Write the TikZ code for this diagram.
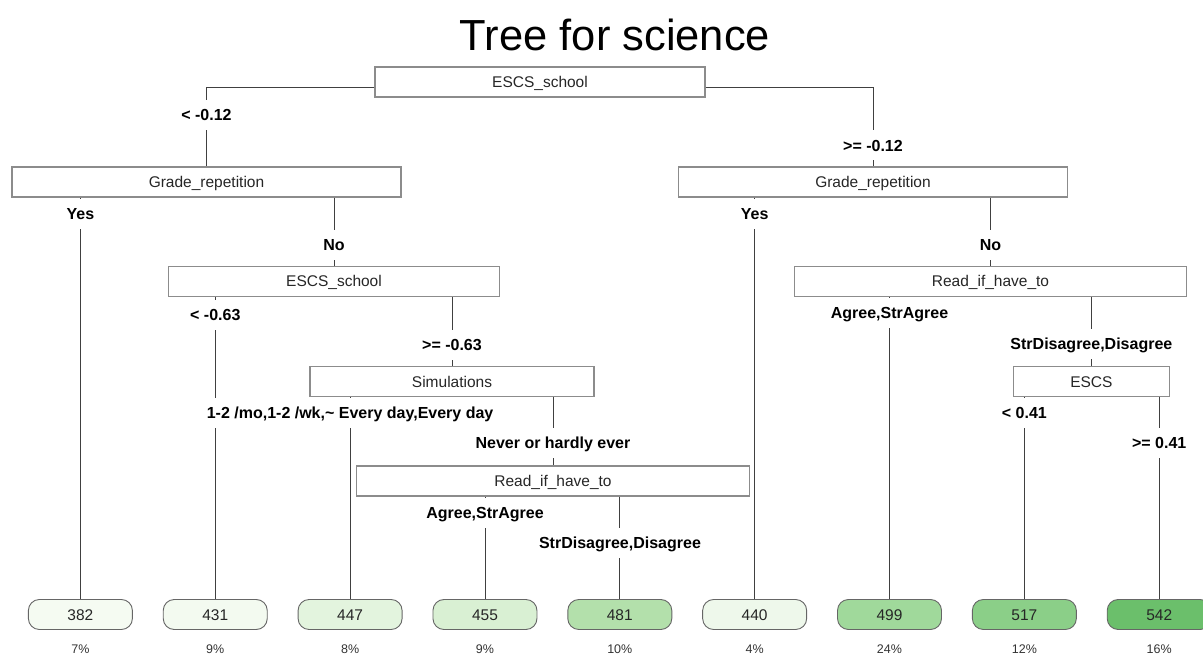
\documentclass[tikz,border=0pt]{standalone}
\usepackage{fontspec}
\setmainfont{Liberation Sans}
\definecolor{leafa}{HTML}{F5FBF2}
\definecolor{leafb}{HTML}{F3FAF0}
\definecolor{leafc}{HTML}{E3F4DE}
\definecolor{leafd}{HTML}{D9F0D3}
\definecolor{leafe}{HTML}{B3E0AB}
\definecolor{leaff}{HTML}{EEF8EB}
\definecolor{leafg}{HTML}{A0D99B}
\definecolor{leafh}{HTML}{8BCF88}
\definecolor{leafi}{HTML}{6BBF6B}

\begin{document}
\begin{tikzpicture}[x=1pt,y=-1pt,
    split/.style={draw=black!45,line width=1.2pt,fill=white,minimum height=30pt,inner sep=0pt,
        text height=11pt,text depth=0pt,font=\fontsize{15.5}{18}\selectfont,text=black!85},
    leaf/.style={draw=black!60,line width=0.9pt,rounded corners=11pt,minimum width=104pt,
        minimum height=30pt,inner sep=0pt,text height=11pt,text depth=0pt,
        font=\fontsize{15.5}{18}\selectfont,text=black!85},
    cut/.style={fill=white,minimum height=30pt,inner sep=2pt,text height=11.5pt,text depth=0pt,
        font=\bfseries\fontsize{16}{19}\selectfont},
    branch/.style={draw=black!75,line width=0.8pt},
    pct/.style={font=\fontsize{12.5}{15}\selectfont,text=black!80}]
    \useasboundingbox (0,0) rectangle (1203,655);

    \node[anchor=base,font=\fontsize{43.5}{50}\selectfont] (title) at (615,51) {Tree for science};

    % Split nodes
    \node[split,minimum width=330pt] (root) at (540,82) {ESCS\_school};
    \node[split,minimum width=389pt] (grL) at (206.5,182) {Grade\_repetition};
    \node[split,minimum width=389pt] (grR) at (873,182) {Grade\_repetition};
    \node[split,minimum width=331pt] (escsL) at (334,281.5) {ESCS\_school};
    \node[split,minimum width=392pt] (readR) at (990.5,281.5) {Read\_if\_have\_to};
    \node[split,minimum width=284pt] (sim) at (452,381.5) {Simulations};
    \node[split,minimum width=393pt] (readL) at (553,481) {Read\_if\_have\_to};
    \node[split,minimum width=156pt] (escs) at (1091.4,381.5) {ESCS};

    % Leaves with their shares
    \foreach \v/\p/\c [count=\i from 0] in {382/7/leafa,431/9/leafb,447/8/leafc,455/9/leafd,
        481/10/leafe,440/4/leaff,499/24/leafg,517/12/leafh,542/16/leafi}{
        \node[leaf,fill=\c] (l\v) at ({80.4+134.85*\i},614.5) {\v};
        \node[pct,anchor=base] (p\v) at ({80.4+134.85*\i},653) {\p\%};
    }

    % Branches
    \draw[branch] ([yshift=-5pt]root.west) -| (grL.north);
    \draw[branch] ([yshift=-5pt]root.east) -| (grR.north);
    \draw[branch] (grL.south -| l382.north) -- (l382.north);
    \draw[branch] (grL.south -| escsL.north) -- (escsL.north);
    \draw[branch] (escsL.south -| l431.north) -- (l431.north);
    \draw[branch] (escsL.south -| sim.north) -- (sim.north);
    \draw[branch] (sim.south -| l447.north) -- (l447.north);
    \draw[branch] (sim.south -| readL.north) -- (readL.north);
    \draw[branch] (readL.south -| l455.north) -- (l455.north);
    \draw[branch] (readL.south -| l481.north) -- (l481.north);
    \draw[branch] (grR.south -| l440.north) -- (l440.north);
    \draw[branch] (grR.south -| readR.north) -- (readR.north);
    \draw[branch] (readR.south -| l499.north) -- (l499.north);
    \draw[branch] (readR.south -| escs.north) -- (escs.north);
    \draw[branch] (escs.south -| l517.north) -- (l517.north);
    \draw[branch] (escs.south -| l542.north) -- (l542.north);

    % Split labels
    \node[cut] (c1) at (206.5,115) {< -0.12};
    \node[cut] (c2) at (873,145.5) {>= -0.12};
    \node[cut] (c3) at (80.4,214) {Yes};
    \node[cut] (c4) at (334,245) {No};
    \node[cut] (c5) at (754.7,214) {Yes};
    \node[cut] (c6) at (990.5,245) {No};
    \node[cut] (c7) at (215.3,315) {< -0.63};
    \node[cut] (c8) at (452,345) {>= -0.63};
    \node[cut] (c9) at (350.1,412.5) {1-2 /mo,1-2 /wk,\textasciitilde{} Every day,Every day};
    \node[cut] (c10) at (553,442.5) {Never or hardly ever};
    \node[cut] (c11) at (485,512.5) {Agree,StrAgree};
    \node[cut] (c12) at (620,542.5) {StrDisagree,Disagree};
    \node[cut] (c13) at (889.5,313) {Agree,StrAgree};
    \node[cut] (c14) at (1091.4,343.5) {StrDisagree,Disagree};
    \node[cut] (c15) at (1024.4,412.5) {< 0.41};
    \node[cut] (c16) at (1159.2,443) {>= 0.41};
\end{tikzpicture}
\end{document}
